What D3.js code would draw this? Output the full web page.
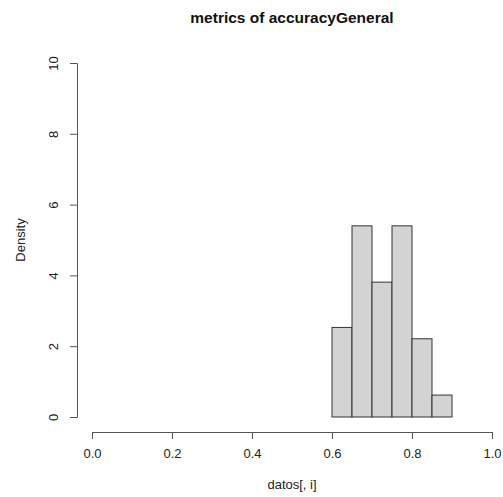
<!DOCTYPE html>
<html>
<head>
<meta charset="utf-8">
<script src="https://cdn.jsdelivr.net/npm/d3@7"></script>
<style>
  body { margin: 0; background: #fff; }
  svg { display: block; font-family: "Liberation Sans", Arial, sans-serif; }
</style>
</head>
<body>
<svg id="chart" width="503" height="497"></svg>
<script>
// Histogram bins (left edges) and densities
const binStarts = [0.60, 0.65, 0.70, 0.75, 0.80, 0.85];
const binWidth = 0.05;
const densities = [2.53, 5.40, 3.81, 5.40, 2.21, 0.62];
const xTicks = [0, 0.2, 0.4, 0.6, 0.8, 1.0];
const yTicks = [0, 2, 4, 6, 8, 10];

const svg = d3.select('#chart');

// Scales (R style plot region)
const x = d3.scaleLinear().domain([0, 1]).range([92, 492]);
const y = d3.scaleLinear().domain([0, 10]).range([417, 63]);

// Bars
svg.append('g')
    .selectAll('rect')
    .data(binStarts)
    .join('rect')
    .attr('x', d => x(d))
    .attr('y', (d, i) => y(densities[i]))
    .attr('width', d => x(d + binWidth) - x(d))
    .attr('height', (d, i) => y(0) - y(densities[i]))
    .attr('fill', '#d3d3d3')
    .attr('stroke', '#333')
    .attr('stroke-width', 1);

// X axis
const xAxis = svg.append('g')
    .attr('transform', 'translate(0,432)')
    .call(d3.axisBottom(x).tickValues(xTicks).tickFormat(d3.format('.1f')).tickSize(7).tickPadding(10));
xAxis.select('.domain').attr('stroke', '#555');
xAxis.selectAll('.tick line').attr('stroke', '#555');
xAxis.selectAll('.tick text').attr('font-size', 13).attr('fill', '#222');

// Y axis
const yAxis = svg.append('g')
    .attr('transform', 'translate(77,0)')
    .call(d3.axisLeft(y).tickValues(yTicks).tickSize(7).tickPadding(0));
yAxis.select('.domain').attr('stroke', '#555');
yAxis.selectAll('.tick line').attr('stroke', '#555');
yAxis.selectAll('.tick text')
    .attr('font-size', 13)
    .attr('fill', '#222')
    .attr('x', 0)
    .attr('dy', 0)
    .attr('text-anchor', 'middle')
    .attr('transform', 'translate(-22,0) rotate(-90)')
    .attr('dominant-baseline', 'middle');

// Title and axis labels
svg.append('text')
    .attr('x', 292).attr('y', 23)
    .attr('text-anchor', 'middle')
    .attr('font-size', 15.5).attr('font-weight', 'bold').attr('fill', '#111')
    .text('metrics of accuracyGeneral');

svg.append('text')
    .attr('x', 292).attr('y', 489)
    .attr('text-anchor', 'middle')
    .attr('font-size', 13).attr('fill', '#222')
    .text('datos[, i]');

svg.append('text')
    .attr('transform', 'translate(25,240) rotate(-90)')
    .attr('text-anchor', 'middle')
    .attr('font-size', 13).attr('fill', '#222')
    .text('Density');
</script>
</body>
</html>
